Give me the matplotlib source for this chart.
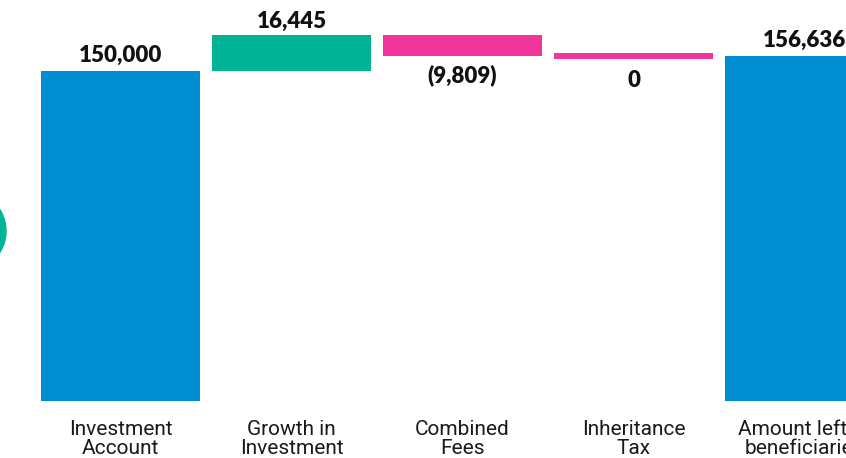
import matplotlib.pyplot as plt
from matplotlib.patches import Circle

categories = ['Investment\nAccount', 'Growth in\nInvestment', 'Combined\nFees',
              'Inheritance\nTax', 'Amount left to\nbeneficiaries']
changes = [150000, 16445, -9809, 0]
final_value = 156636

BLUE = '#008ED3'
GREEN = '#00B394'
PINK = '#F2359A'


def fmt(v):
    if v < 0:
        return f"({abs(v):,})"
    return f"{v:,}"


fig = plt.figure(figsize=(8.46, 4.58), dpi=100)
ax = fig.add_axes([0, 57 / 458, 1, 401 / 458])

w = 0.93
x = list(range(len(categories)))
label_font = dict(family=['Lato', 'DejaVu Sans'], fontweight='heavy', fontsize=16, color='#111111')

running = 0
for i, v in enumerate(changes):
    if i == 0:
        ax.bar(x[i], v, width=w, color=BLUE)
        running = v
        ax.annotate(fmt(v), (x[i], running), xytext=(0, 4), textcoords='offset points',
                    ha='center', va='bottom', **label_font)
    elif v > 0:
        ax.bar(x[i], v, bottom=running, width=w, color=GREEN)
        running += v
        ax.annotate(fmt(v), (x[i], running), xytext=(0, 2), textcoords='offset points',
                    ha='center', va='bottom', **label_font)
    elif v < 0:
        ax.bar(x[i], v, bottom=running, width=w, color=PINK)
        running += v
        ax.annotate(fmt(v), (x[i], running), xytext=(0, -6), textcoords='offset points',
                    ha='center', va='top', **label_font)
    else:
        # zero change drawn as a thin line
        ax.plot([x[i] - w / 2, x[i] + w / 2], [running, running], color=PINK,
                lw=4.3, solid_capstyle='butt')
        ax.annotate(fmt(v), (x[i], running), xytext=(0, -10), textcoords='offset points',
                    ha='center', va='top', **label_font)

ax.bar(x[4], final_value, width=w, color=BLUE)
ax.annotate(fmt(final_value), (x[4], final_value), xytext=(0, 4), textcoords='offset points',
            ha='center', va='bottom', **label_font)

ax.set_xlim(-120.5 / 171, (846 - 120.5) / 171)
ax.set_ylim(0, 401 / 2.2 * 1000)
ax.axis('off')

for i, c in enumerate(categories):
    ax.annotate(c, (x[i], 0), xytext=(0, -13.5), textcoords='offset points',
                ha='center', va='top', fontsize=15, linespacing=1.02, color='#1a1a1a',
                family=['Roboto', 'DejaVu Sans'], fontweight='normal')

# teal circle peeking in from the left edge
fig.patches.append(Circle((-0.34, (458 - 231) / 100), 0.40, transform=fig.dpi_scale_trans,
                          color=GREEN, zorder=0))

fig.savefig('out.png', dpi=100)
